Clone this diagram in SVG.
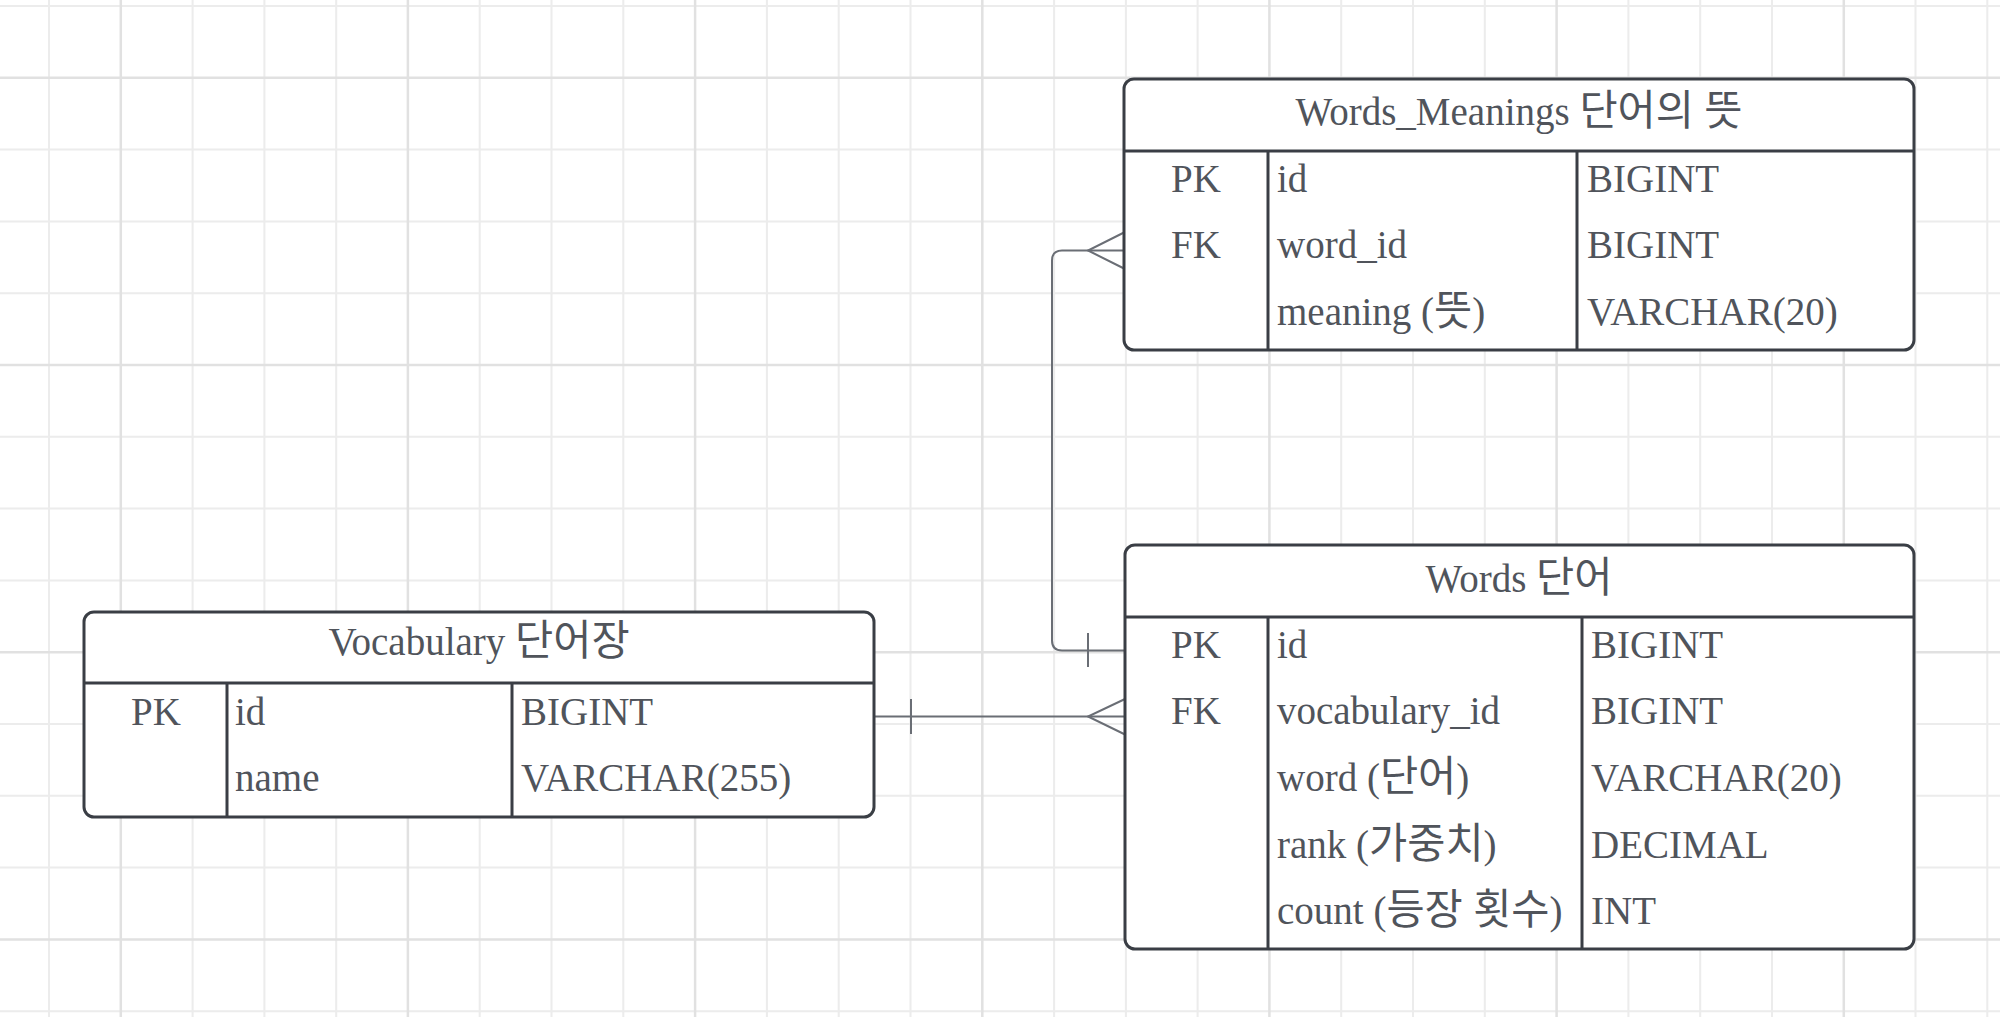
<svg xmlns="http://www.w3.org/2000/svg" width="2000" height="1017" viewBox="0 0 2000 1017">
<defs>
<style>
.g{stroke:#ececec;stroke-width:2;fill:none}
.gm{stroke:#e1e1e1;stroke-width:2.5;fill:none}
.box{fill:#ffffff;stroke:#3a3e45;stroke-width:3}
.ln{stroke:#3a3e45;stroke-width:3;fill:none}
.t{font-family:"Liberation Serif","Noto Sans CJK KR",serif;font-size:39px;fill:#50545b}
.k{font-size:41.5px}
.c{text-anchor:middle}
.cn{stroke:#6a6e75;stroke-width:2;fill:none}
</style>
</defs>
<rect width="2000" height="1017" fill="#ffffff"/>
<g id="grid">
<path class="g" d="M49 0V1017M192.6 0V1017M264.4 0V1017M336.2 0V1017M479.7 0V1017M551.5 0V1017M623.3 0V1017M766.9 0V1017M838.7 0V1017M910.5 0V1017M1054.1 0V1017M1125.9 0V1017M1197.6 0V1017M1341.2 0V1017M1413 0V1017M1484.8 0V1017M1628.4 0V1017M1700.2 0V1017M1772 0V1017M1915.5 0V1017M1987.3 0V1017"/>
<path class="g" d="M0 6H2000M0 149.6H2000M0 221.4H2000M0 293.2H2000M0 436.8H2000M0 508.6H2000M0 580.4H2000M0 724H2000M0 795.8H2000M0 867.6H2000M0 1011.2H2000"/>
<path class="gm" d="M120.8 0V1017M407.9 0V1017M695.1 0V1017M982.3 0V1017M1269.4 0V1017M1556.6 0V1017M1843.8 0V1017M0 77.8H2000M0 365H2000M0 652.2H2000M0 939.4H2000"/>
</g>
<g id="connectors">
<path class="cn" d="M874 716.5H1125"/>
<path class="cn" d="M911 699V734"/>
<path class="cn" d="M1125 699L1088 716.5L1125 734.5"/>
<path class="cn" d="M1125 650.5H1062Q1052 650.5 1052 640.5V260.5Q1052 250.5 1062 250.5H1125"/>
<path class="cn" d="M1088 633V667"/>
<path class="cn" d="M1124 232.5L1088 250.5L1124 268.5"/>
</g>
<g id="words_meanings">
<rect class="box" x="1124" y="79" width="790" height="271" rx="10"/>
<path class="ln" d="M1124 151H1914M1268 151V350M1577 151V350"/>
<text class="t c" x="1519" y="125">Words_Meanings <tspan class="k">단어의 뜻</tspan></text>
<text class="t c" x="1196" y="192">PK</text>
<text class="t" x="1277" y="192">id</text>
<text class="t" x="1587" y="192">BIGINT</text>
<text class="t c" x="1196" y="258">FK</text>
<text class="t" x="1277" y="258">word_id</text>
<text class="t" x="1587" y="258">BIGINT</text>
<text class="t" x="1277" y="325">meaning (<tspan class="k">뜻</tspan>)</text>
<text class="t" x="1587" y="325">VARCHAR(20)</text>
</g>
<g id="words">
<rect class="box" x="1125" y="545" width="789" height="404" rx="10"/>
<path class="ln" d="M1125 617H1914M1268 617V949M1582 617V949"/>
<text class="t c" x="1519" y="592">Words <tspan class="k">단어</tspan></text>
<text class="t c" x="1196" y="658">PK</text>
<text class="t" x="1277" y="658">id</text>
<text class="t" x="1591" y="658">BIGINT</text>
<text class="t c" x="1196" y="724">FK</text>
<text class="t" x="1277" y="724">vocabulary_id</text>
<text class="t" x="1591" y="724">BIGINT</text>
<text class="t" x="1277" y="791">word (<tspan class="k">단어</tspan>)</text>
<text class="t" x="1591" y="791">VARCHAR(20)</text>
<text class="t" x="1277" y="858">rank (<tspan class="k">가중치</tspan>)</text>
<text class="t" x="1591" y="858">DECIMAL</text>
<text class="t" x="1277" y="924">count (<tspan class="k">등장 횟수</tspan>)</text>
<text class="t" x="1591" y="924">INT</text>
</g>
<g id="vocabulary">
<rect class="box" x="84" y="612" width="790" height="205" rx="10"/>
<path class="ln" d="M84 683H874M227 683V817M512 683V817"/>
<text class="t c" x="479" y="655">Vocabulary <tspan class="k">단어장</tspan></text>
<text class="t c" x="156" y="725">PK</text>
<text class="t" x="235" y="725">id</text>
<text class="t" x="521" y="725">BIGINT</text>
<text class="t" x="235" y="791">name</text>
<text class="t" x="521" y="791">VARCHAR(255)</text>
</g>
</svg>
